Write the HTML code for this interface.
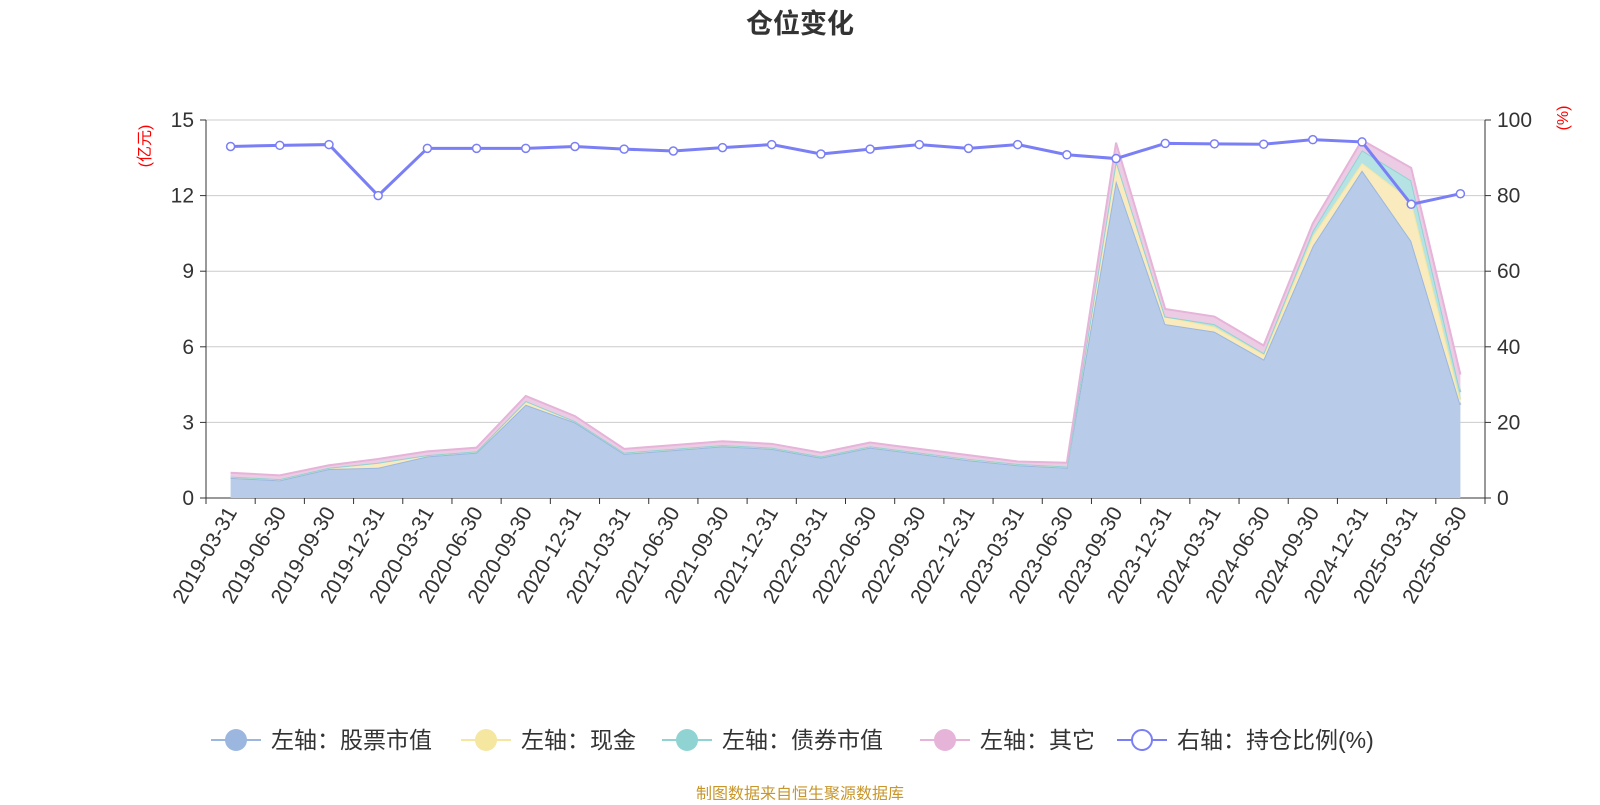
<!DOCTYPE html>
<html><head><meta charset="utf-8"><style>
body{margin:0;background:#fff;font-family:"Liberation Sans","Noto Sans CJK SC",sans-serif;}
svg text{font-family:"Liberation Sans","Noto Sans CJK SC",sans-serif;}
</style></head><body>
<svg id="c" width="1600" height="800" xmlns="http://www.w3.org/2000/svg">
<text x="800" y="33" text-anchor="middle" font-size="27" font-weight="bold" fill="#333">仓位变化</text>
<text x="800" y="799" text-anchor="middle" font-size="16" fill="#c8962a">制图数据来自恒生聚源数据库</text>
</svg>
<script>
const categories=["2019-03-31","2019-06-30","2019-09-30","2019-12-31","2020-03-31","2020-06-30","2020-09-30","2020-12-31","2021-03-31","2021-06-30","2021-09-30","2021-12-31","2022-03-31","2022-06-30","2022-09-30","2022-12-31","2023-03-31","2023-06-30","2023-09-30","2023-12-31","2024-03-31","2024-06-30","2024-09-30","2024-12-31","2025-03-31","2025-06-30"];
const stockValues=[0.8,0.7,1.15,1.2,1.65,1.8,3.7,3.0,1.75,1.9,2.05,1.95,1.6,2.0,1.75,1.5,1.3,1.2,12.6,6.9,6.6,5.5,10.0,13.0,10.2,3.7];
const cashValues=[0.05,0.05,0.05,0.2,0.05,0.05,0.15,0.05,0.05,0.05,0.05,0.05,0.05,0.05,0.05,0.05,0.05,0.05,0.8,0.3,0.2,0.2,0.4,0.3,1.6,0.2];
const bondValues=[0,0,0,0,0,0,0,0,0,0,0,0,0,0,0,0,0,0,0,0,0.1,0.05,0.2,0.5,0.8,0.3];
const otherValues=[0.15,0.15,0.1,0.15,0.15,0.15,0.2,0.2,0.15,0.15,0.15,0.15,0.15,0.15,0.15,0.15,0.1,0.15,0.7,0.3,0.3,0.3,0.3,0.4,0.5,0.7];
const ratioValues=[93,93.3,93.5,80,92.5,92.5,92.5,93,92.3,91.8,92.7,93.5,91,92.3,93.5,92.5,93.5,90.8,89.8,93.8,93.7,93.6,94.8,94.2,77.7,80.5];
const leftTicks=[0,3,6,9,12,15];
const rightTicks=[0,20,40,60,80,100];
const NS="http://www.w3.org/2000/svg";
const svg=document.getElementById('c');
const L=206,R=1485,T=120,B=498;
const band=(R-L)/categories.length;
const x=i=>L+band*(i+0.5);
const yL=v=>B-(v/15)*(B-T);
const yR=v=>B-(v/100)*(B-T);
function mk(tag,attrs,parent){const e=document.createElementNS(NS,tag);for(const k in attrs)e.setAttribute(k,attrs[k]);(parent||svg).appendChild(e);return e;}
leftTicks.forEach((t,i)=>{
  const g=mk('line',{x1:L,x2:R,y1:yL(t),y2:yL(t),stroke:i===0?'#333':'#ccc','stroke-width':1});
  
  
  const tx=mk('text',{x:L-12,y:yL(t)+7,'text-anchor':'end','font-size':21,fill:'#333'});
  tx.textContent=t;
  
  
  mk('line',{x1:L-6,x2:L,y1:yL(t),y2:yL(t),stroke:'#333'});
});
rightTicks.forEach(t=>{
  const tx=mk('text',{x:R+12,y:yR(t)+7,'font-size':21,fill:'#333'});
  tx.textContent=t;
  
  
  mk('line',{x1:R,x2:R+6,y1:yR(t),y2:yR(t),stroke:'#333'});
});
mk('line',{x1:L,x2:L,y1:T,y2:B,stroke:'#333'});
mk('line',{x1:R,x2:R,y1:T,y2:B,stroke:'#333'});
let t1=mk('text',{x:0,y:0,transform:'translate(150,146) rotate(-90)','text-anchor':'middle','font-size':16,fill:'red'});t1.textContent='(亿元)';

let t2=mk('text',{x:0,y:0,transform:'translate(1568,118) rotate(-90)','text-anchor':'middle','font-size':16,fill:'red'});t2.textContent='(%)';

for(let i=0;i<=categories.length;i++){mk('line',{x1:L+band*i,x2:L+band*i,y1:B,y2:B+6,stroke:'#333'});}
categories.forEach((c,i)=>{
  const tx=mk('text',{x:0,y:0,transform:`translate(${x(i)+7},${B+14}) rotate(-60)`,'text-anchor':'end','font-size':21,fill:'#333'});
  tx.textContent=c;
  
  
});
const series=[[stockValues,'#9bb7e0','#b8cce9','stock'],[cashValues,'#f5e6a0','#f9ebbd','cash'],[bondValues,'#8fd3d3','#b5e3e3','bond'],[otherValues,'#e6b3d9','#eccce4','other']];
let base=categories.map(()=>0);
series.forEach(([vals,lc,fc,nm])=>{
  const top=vals.map((v,i)=>base[i]+v);
  let d='M'+top.map((v,i)=>x(i)+','+yL(v)).join(' L');
  for(let i=categories.length-1;i>=0;i--)d+=' L'+x(i)+','+yL(base[i]);
  const a=mk('path',{d:d+'Z',fill:fc});
  
  
  const l=mk('polyline',{points:top.map((v,i)=>x(i)+','+yL(v)).join(' '),fill:'none',stroke:lc,'stroke-width':2});
  
  
  base=top;
});
const rl=mk('polyline',{points:ratioValues.map((v,i)=>x(i)+','+yR(v)).join(' '),fill:'none',stroke:'#7b7ff5','stroke-width':3});


ratioValues.forEach((v,i)=>{
  const p=mk('circle',{cx:x(i),cy:yR(v),r:4,fill:'#fff',stroke:'#7b7ff5','stroke-width':1.5});
  
  
});
const leg=[['左轴：股票市值','#9bb7e0',true,211],['左轴：现金','#f5e6a0',true,461],['左轴：债券市值','#8fd3d3',true,662],['左轴：其它','#e6b3d9',true,920],['右轴：持仓比例(%)','#7b7ff5',false,1117]];
leg.forEach(([t,c,fill,lx])=>{
  const g=mk('g',{});
  
  
  mk('line',{x1:lx,x2:lx+50,y1:740,y2:740,stroke:c,'stroke-width':2},g);
  mk('circle',{cx:lx+25,cy:740,r:fill?11:10,fill:fill?c:'#fff',stroke:c,'stroke-width':fill?0:2},g);
  const tx=mk('text',{x:lx+60,y:748,'font-size':23,fill:'#333'},g);tx.textContent=t;
});
</script>
</body></html>
